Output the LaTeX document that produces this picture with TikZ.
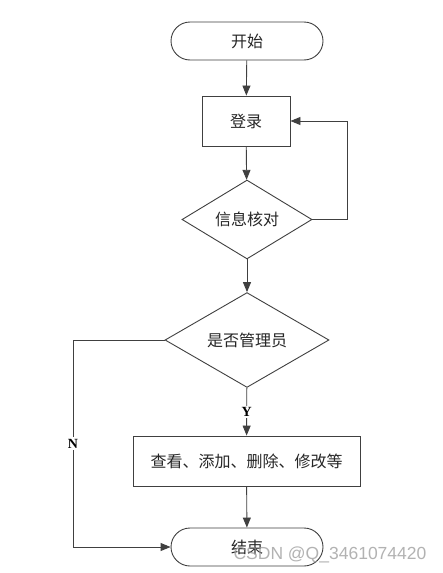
\documentclass[tikz,border=0pt]{standalone}
\usepackage{fontspec}
\setmainfont{Liberation Serif}
\newfontfamily\cjk{Noto Sans CJK SC}
\newfontfamily\wmfont{Liberation Sans}
\usetikzlibrary{arrows.meta,shapes.geometric}
\begin{document}
\begin{tikzpicture}[x=1pt,y=-1pt,
  line width=0.9pt,
  every node/.style={font=\cjk\fontsize{16}{19}\selectfont, text=black!85},
  term/.style={draw=black!75, rectangle, rounded corners=19pt, minimum width=152pt, minimum height=38pt, inner sep=0pt},
  procbox/.style={draw=black!75, rectangle, minimum height=50pt, inner sep=0pt},
  dec/.style={draw=black!75, diamond, inner sep=0pt},
  arr/.style={draw=black!75, -{Triangle[length=10pt,width=8pt]}},
  lbl/.style={fill=white, inner sep=1.5pt, text=black, font=\bfseries\fontsize{14}{16}\selectfont}
]
\useasboundingbox (0,0) rectangle (442,573);
\fill[white] (0,0) rectangle (442,573);

\node[term] (start) at (247,41) {开始};
\node[procbox, minimum width=88pt] (login) at (246,121) {登录};
\node[dec, minimum width=130pt, minimum height=75pt] (check) at (247,219.5) {信息核对};
\node[dec, minimum width=164pt, minimum height=94pt] (admin) at (247,340) {是否管理员};
\node[procbox, minimum width=227pt] (ops) at (246.5,461) {查看、添加、删除、修改等};
\node[term] (end) at (247,547) {结束};

\coordinate (rt) at (347,219.5);
\coordinate (nl) at (73,340);

\draw[arr] (start) -- (login);
\draw[arr] (login) -- (check);
\draw[arr] (check.east) -- (rt) |- (login.east);
\draw[arr] (check) -- (admin);
\draw[arr] (admin) -- node[lbl] {Y} (ops);
\draw[arr] (ops) -- (end);
\draw[arr] (admin.west) -- (nl) -- node[lbl, pos=0.5] {N} (nl |- end.west) -- (end.west);

\node[font=\wmfont\fontsize{17.5}{20}\selectfont, text=black!40, opacity=0.75, anchor=center, inner sep=0pt] (wm) at (330,555) {CSDN @Q\_3461074420};
\end{tikzpicture}
\end{document}
